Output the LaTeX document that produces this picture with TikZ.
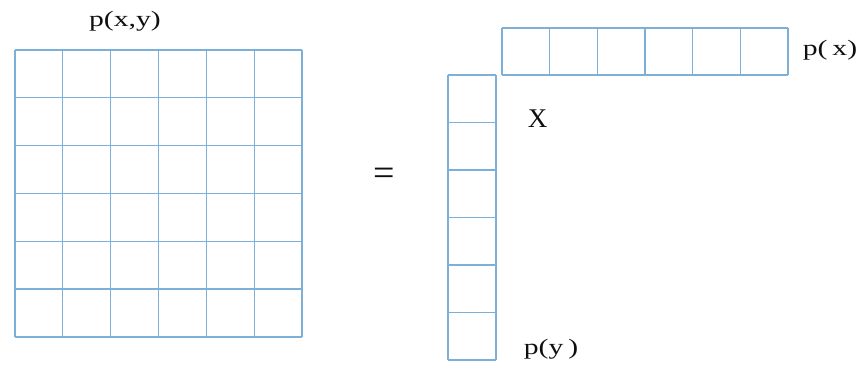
\documentclass[tikz,border=0pt]{standalone}
\usepackage{fontspec}
\setmainfont{Liberation Serif}
\definecolor{gridblue}{RGB}{125,175,215}
\definecolor{txt}{RGB}{15,15,15}
\begin{document}
\begin{tikzpicture}[x=1pt,y=-1pt,
  cellline/.style={draw=gridblue,line width=1.3pt},
  lbl/.style={text=txt,inner sep=0pt,font=\fontsize{22}{22}\selectfont,xscale=1.35}]
\useasboundingbox (0,0) rectangle (865,371);
% left 6x6 grid
\foreach \i in {0,...,6} {
  \draw[cellline] ({15+\i*47.83},50) -- ({15+\i*47.83},337);
  \draw[cellline] (15,{50+\i*47.83}) -- (302,{50+\i*47.83});
}
% top row
\foreach \i in {0,...,6} {
  \draw[cellline] ({502+\i*47.67},28) -- ({502+\i*47.67},75);
}
\draw[cellline] (502,28) -- (788,28);
\draw[cellline] (502,75) -- (788,75);
% left column
\foreach \i in {0,...,6} {
  \draw[cellline] (448,{75+\i*47.5}) -- (496,{75+\i*47.5});
}
\draw[cellline] (448,75) -- (448,360);
\draw[cellline] (496,75) -- (496,360);
% labels
\node[lbl] (pxy) at (125,21) {p(x,y)};
\node[lbl] (px) at (830,50) {p(\,x)};
\node[lbl] (py) at (551,349) {p(y\,)};
\node[text=txt,inner sep=0pt,font=\fontsize{27}{27}\selectfont] (X) at (537.5,119) {X};
\node[text=txt,inner sep=0pt,font=\fontsize{38}{38}\selectfont] (eq) at (384,177) {=};
\end{tikzpicture}
\end{document}
